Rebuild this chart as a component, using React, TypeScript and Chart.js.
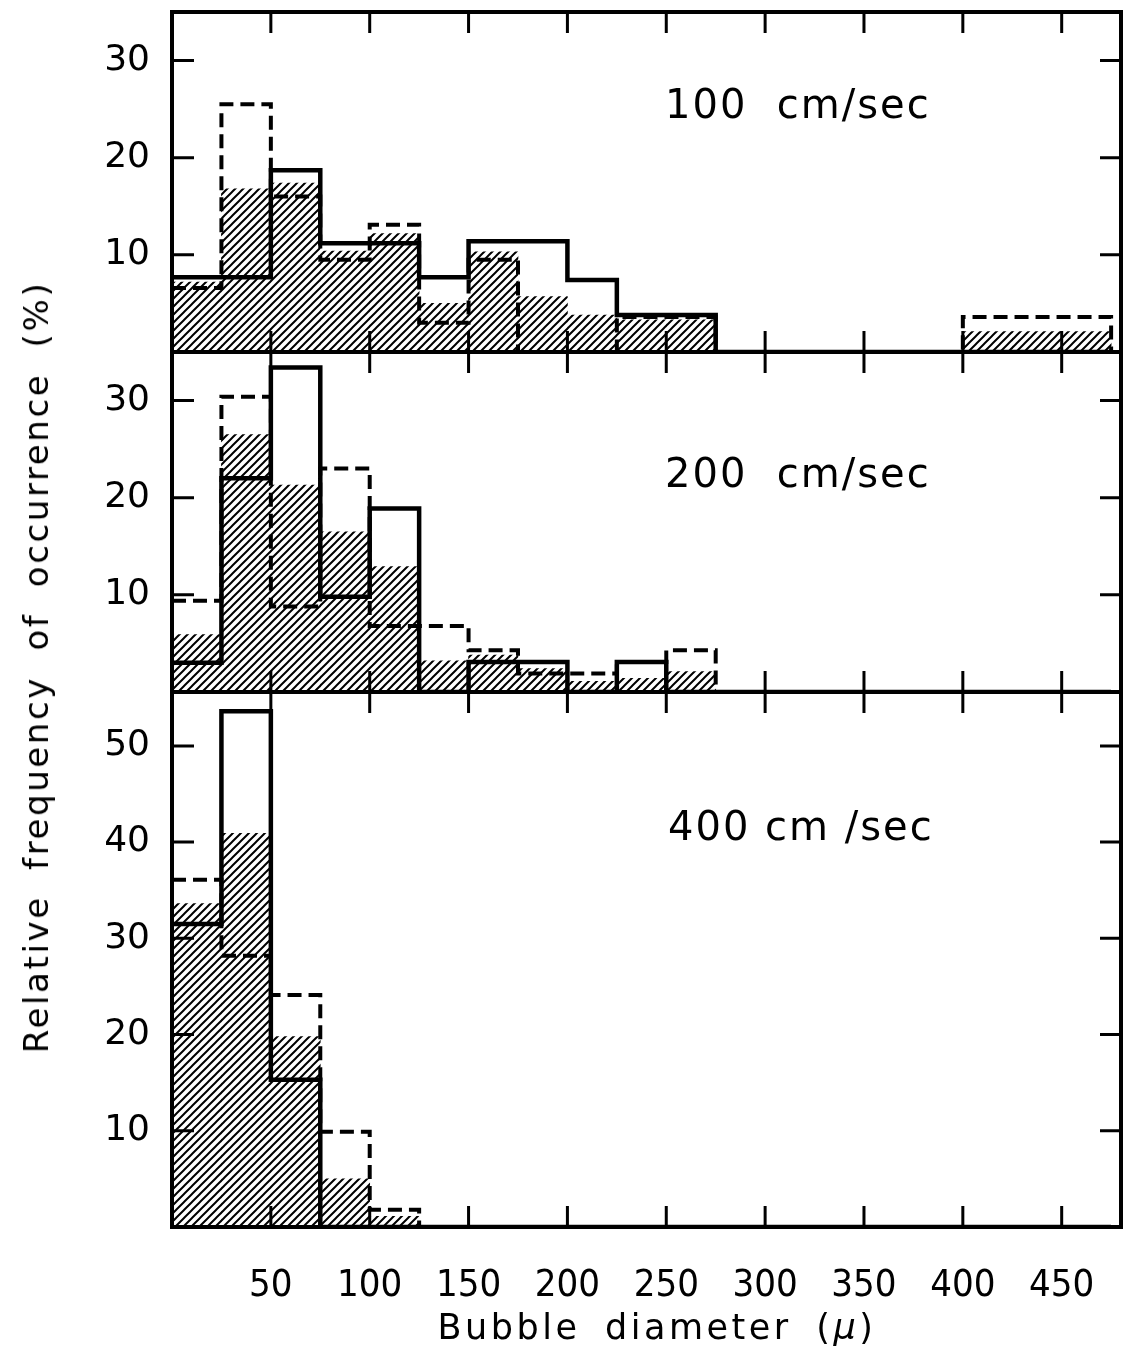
import React, { useEffect, useRef } from 'react';
import { Chart, registerables } from 'chart.js';

Chart.register(...registerables);

// ---- data ----
const binStarts = [0, 25, 50, 75, 100, 125, 150, 175, 200, 225, 250, 275, 300, 325, 350, 375, 400, 425, 450];
const binWidth = 25;
const xTickStep = 50;
const xMax = 480;

// 100 cm/sec
const hatch100 = [7.2, 16.8, 17.4, 10.4, 12.2, 5.0, 10.3, 5.7, 3.8, 3.3, 3.3, 0, 0, 0, 0, 0, 2.1, 2.1, 2.1];
const solid100 = [7.7, 7.7, 18.7, 11.2, 11.2, 7.7, 11.4, 11.4, 7.4, 3.8, 3.8, 0, 0, 0, 0, 0, 0, 0, 0];
const dashed100 = [6.6, 25.5, 16.0, 9.5, 13.1, 3.0, 9.5, 0, 0, 3.6, 3.6, 0, 0, 0, 0, 0, 3.6, 3.6, 3.6];

// 200 cm/sec
const hatch200 = [5.9, 26.5, 21.3, 16.5, 12.9, 3.2, 3.8, 2.4, 1.1, 1.4, 2.1, 0, 0, 0, 0, 0, 0, 0, 0];
const solid200 = [3.0, 22.0, 33.4, 9.8, 18.9, 0, 3.1, 3.1, 0, 3.1, 0, 0, 0, 0, 0, 0, 0, 0, 0];
const dashed200 = [9.4, 30.4, 8.8, 23.0, 6.8, 6.8, 4.3, 1.9, 1.9, 3.1, 4.3, 0, 0, 0, 0, 0, 0, 0, 0];

// 400 cm/sec
const hatch400 = [33.6, 40.9, 19.8, 5.0, 1.1, 0, 0, 0, 0, 0, 0, 0, 0, 0, 0, 0, 0, 0, 0];
const solid400 = [31.5, 53.6, 15.3, 0, 0, 0, 0, 0, 0, 0, 0, 0, 0, 0, 0, 0, 0, 0, 0];
const dashed400 = [36.1, 28.2, 24.1, 9.9, 1.8, 0, 0, 0, 0, 0, 0, 0, 0, 0, 0, 0, 0, 0, 0];

const panelLabels = ['100  cm/sec', '200  cm/sec', '400 cm /sec'];
const yMaxes = [35, 35, 55.6];
const yTickStep = 10;

// ---- helpers ----
function makeHatch(): CanvasPattern | string {
  const c = document.createElement('canvas');
  const s = 8;
  c.width = s;
  c.height = s;
  const g = c.getContext('2d');
  if (!g) return '#888';
  g.strokeStyle = '#000';
  g.lineWidth = 2.0;
  g.beginPath();
  g.moveTo(0, s);
  g.lineTo(s, 0);
  g.moveTo(-2, 2);
  g.lineTo(2, -2);
  g.moveTo(s - 2, s + 2);
  g.lineTo(s + 2, s - 2);
  g.stroke();
  return g.createPattern(c, 'repeat') || '#888';
}

function stepPoints(values: number[]) {
  const pts = binStarts.map((b, i) => ({ x: b, y: values[i] }));
  pts.push({ x: binStarts[binStarts.length - 1] + binWidth, y: 0 });
  return pts;
}

const framePlugin = {
  id: 'frame',
  afterDatasetsDraw(chart: any, _args: any, opts: any) {
    const { ctx, chartArea: a, scales } = chart;
    ctx.save();
    ctx.strokeStyle = '#000';
    ctx.lineWidth = 3;
    ctx.lineCap = 'butt';
    const xs = scales.x;
    const ys = scales.y;
    xs.ticks.forEach((t: any) => {
      if (t.value <= xs.min || t.value >= xs.max) return;
      const px = xs.getPixelForValue(t.value);
      ctx.beginPath();
      ctx.moveTo(px, a.bottom);
      ctx.lineTo(px, a.bottom - 21);
      ctx.moveTo(px, a.top);
      ctx.lineTo(px, a.top + 21);
      ctx.stroke();
    });
    ys.ticks.forEach((t: any) => {
      if (t.value <= ys.min || t.value >= ys.max) return;
      const py = ys.getPixelForValue(t.value);
      ctx.beginPath();
      ctx.moveTo(a.left, py);
      ctx.lineTo(a.left + 22, py);
      ctx.moveTo(a.right, py);
      ctx.lineTo(a.right - 21, py);
      ctx.stroke();
    });
    ctx.lineWidth = 4;
    ctx.strokeRect(a.left, a.top, a.right - a.left, a.bottom - a.top);
    ctx.fillStyle = '#000';
    ctx.font = '40px "DejaVu Sans"';
    try { (ctx as any).letterSpacing = '2px'; } catch (e) { /* ignore */ }
    ctx.textBaseline = 'alphabetic';
    ctx.textAlign = 'left';
    ctx.fillText(opts.text, a.left + opts.dx, a.top + opts.dy);
    ctx.restore();
  },
};

type PanelProps = {
  top: number;
  height: number;
  padTop: number;
  padBottom: number;
  xHeight: number;
  showX: boolean;
  hatch: number[];
  solid: number[];
  dashed: number[];
  yMax: number;
  label: string;
  labelDx: number;
  labelDy: number;
};

function zeroPad(s: any) {
  s.paddingTop = 0;
  s.paddingBottom = 0;
  s.paddingLeft = 0;
  s.paddingRight = 0;
}

function Panel(p: PanelProps) {
  const ref = useRef<HTMLCanvasElement | null>(null);
  useEffect(() => {
    if (!ref.current) return;
    const pattern = makeHatch();
    const tickCb = (v: any) => (Number(v) === 0 ? '' : String(v));
    const chart = new Chart(ref.current, {
      type: 'bar',
      data: {
        datasets: [
          {
            type: 'line',
            data: stepPoints(p.solid),
            borderColor: '#000',
            borderWidth: 4.5,
            pointRadius: 0,
            stepped: true,
            fill: false,
            borderCapStyle: 'butt',
            borderJoinStyle: 'miter',
            order: 1,
          } as any,
          {
            type: 'line',
            data: stepPoints(p.dashed),
            borderColor: '#000',
            borderWidth: 4,
            borderDash: [14, 7],
            pointRadius: 0,
            stepped: true,
            fill: false,
            borderCapStyle: 'butt',
            borderJoinStyle: 'miter',
            order: 2,
          } as any,
          {
            type: 'bar',
            data: binStarts.map((b, i) => ({ x: b + binWidth / 2, y: p.hatch[i] })),
            backgroundColor: pattern as any,
            borderWidth: 0,
            barPercentage: 1,
            categoryPercentage: 1,
            grouped: false,
            order: 3,
          } as any,
        ],
      },
      options: {
        animation: false,
        responsive: false,
        maintainAspectRatio: false,
        events: [],
        layout: { padding: { top: p.padTop, bottom: p.padBottom, left: 0, right: 8 } },
        plugins: {
          legend: { display: false },
          tooltip: { enabled: false },
          frame: { text: p.label, dx: p.labelDx, dy: p.labelDy },
        } as any,
        scales: {
          x: {
            type: 'linear',
            min: 0,
            max: xMax,
            offset: false,
            grid: { display: false, drawTicks: false },
            border: { display: false },
            ticks: {
              display: p.showX,
              stepSize: xTickStep,
              includeBounds: false,
              autoSkip: false,
              maxRotation: 0,
              padding: 36,
              color: '#000',
              font: { family: '"Liberation Sans Narrow", "DejaVu Sans Condensed", "Liberation Sans"', size: 38 },
              callback: tickCb,
            },
            afterFit: (s: any) => {
              s.height = p.xHeight;
              zeroPad(s);
            },
          },
          y: {
            type: 'linear',
            min: 0,
            max: p.yMax,
            grid: { display: false, drawTicks: false },
            border: { display: false },
            ticks: {
              stepSize: yTickStep,
              includeBounds: false,
              padding: 22,
              color: '#000',
              font: { family: '"DejaVu Sans"', size: 36 },
              callback: tickCb,
            },
            afterFit: (s: any) => {
              s.width = 172;
              zeroPad(s);
            },
          },
        },
      },
      plugins: [framePlugin],
    });
    return () => chart.destroy();
  }, []);
  return (
    <div style={{ position: 'absolute', left: 0, top: p.top, width: 1129, height: p.height }}>
      <canvas ref={ref} width={1129} height={p.height} style={{ width: 1129, height: p.height, display: 'block' }} />
    </div>
  );
}

export default function App() {
  return (
    <div style={{ position: 'absolute', left: 0, top: 0, width: 1129, height: 1353, background: '#fff', overflow: 'hidden' }}>
      <Panel top={0} height={362} padTop={12} padBottom={10} xHeight={0} showX={false}
        hatch={hatch100} solid={solid100} dashed={dashed100} yMax={yMaxes[0]}
        label={panelLabels[0]} labelDx={493} labelDy={106} />
      <Panel top={342} height={360} padTop={10} padBottom={10} xHeight={0} showX={false}
        hatch={hatch200} solid={solid200} dashed={dashed200} yMax={yMaxes[1]}
        label={panelLabels[1]} labelDx={493} labelDy={135} />
      <Panel top={682} height={660} padTop={10} padBottom={0} xHeight={115} showX={true}
        hatch={hatch400} solid={solid400} dashed={dashed400} yMax={yMaxes[2]}
        label={panelLabels[2]} labelDx={496} labelDy={148} />
      <div style={{
        position: 'absolute', left: 36, top: 667, transform: 'translate(-50%, -50%) rotate(-90deg)',
        whiteSpace: 'pre', fontFamily: '"DejaVu Sans"', fontSize: 34, letterSpacing: 2.6, wordSpacing: 12,
        color: '#000', lineHeight: 1,
      }}>Relative frequency of occurrence (%)</div>
      <div style={{
        position: 'absolute', left: 657, top: 1310, transform: 'translateX(-50%)',
        whiteSpace: 'pre', fontFamily: '"DejaVu Sans"', fontSize: 35, letterSpacing: 3.5, wordSpacing: 10,
        color: '#000', lineHeight: 1,
      }}>Bubble diameter (<span style={{ fontStyle: 'italic' }}>μ</span>)</div>
    </div>
  );
}
